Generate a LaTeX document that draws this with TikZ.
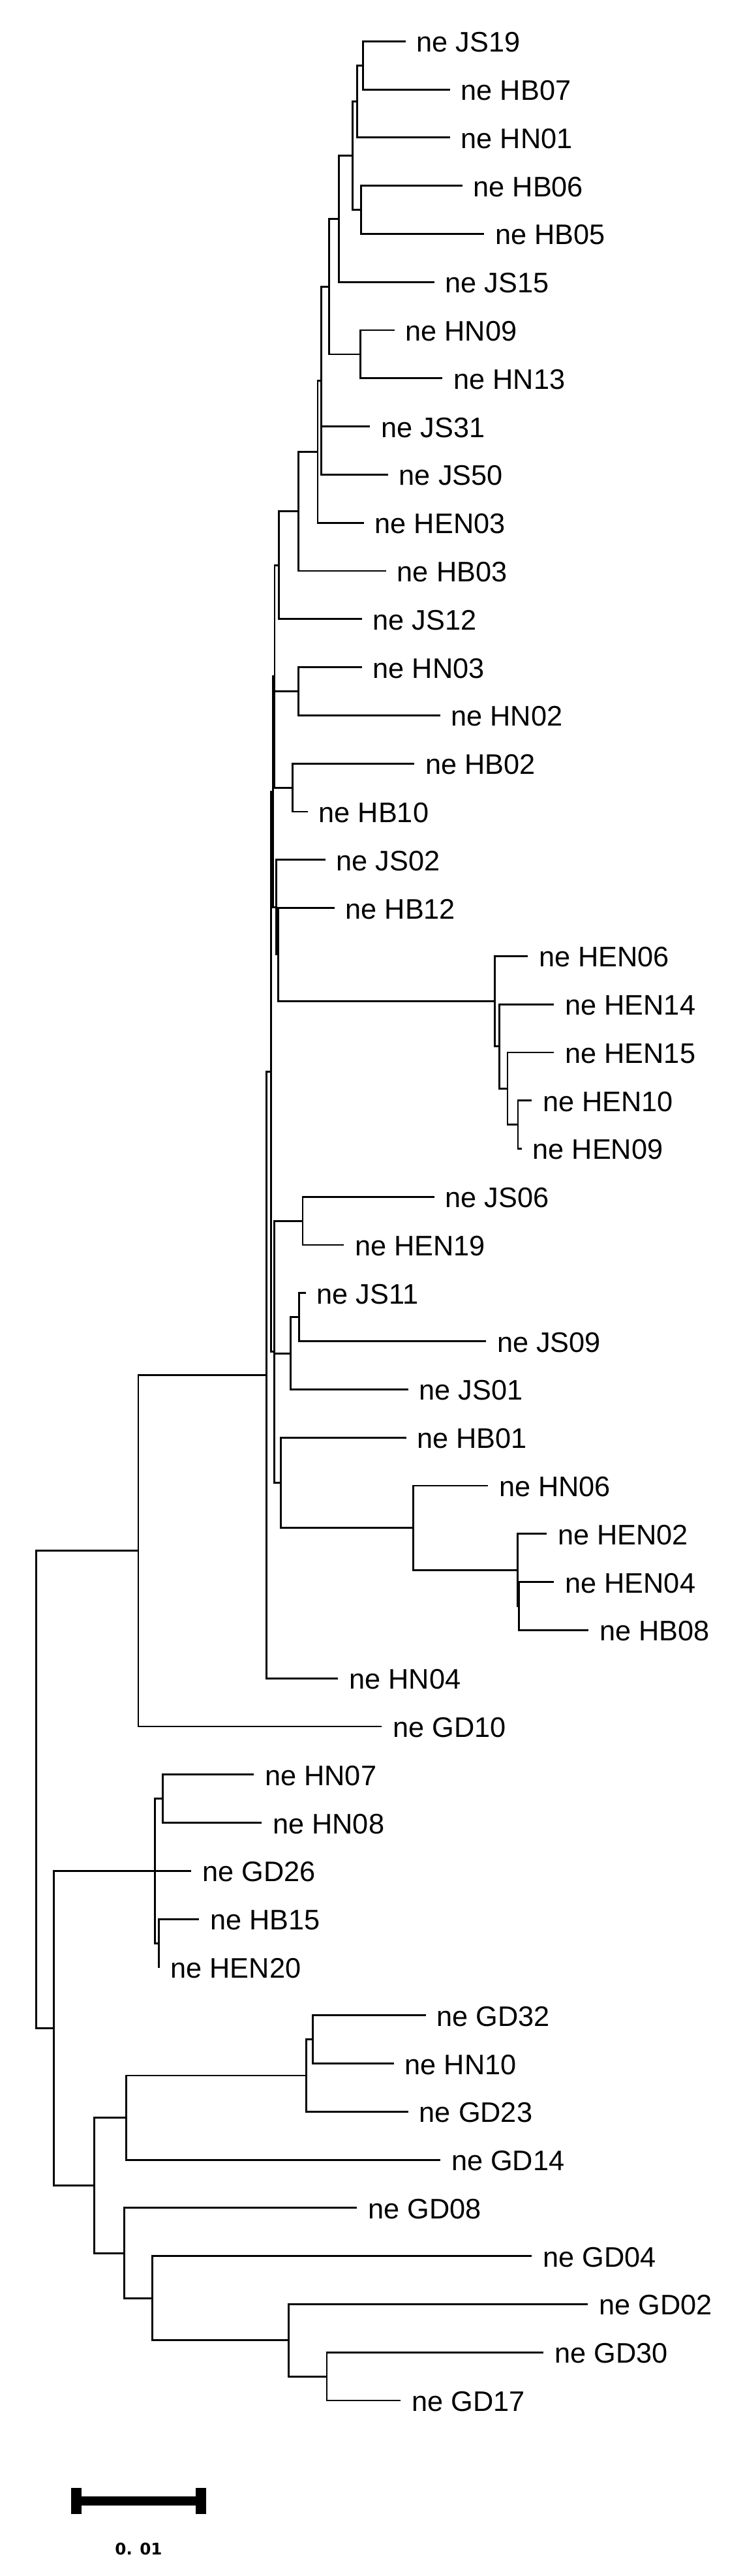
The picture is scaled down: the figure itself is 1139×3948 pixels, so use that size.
\documentclass[tikz,border=0pt]{standalone}
\usepackage{fontspec}
\setmainfont{Liberation Sans}
\newfontfamily\scalebarfont{DejaVu Sans}
\newcommand\leafnode[3]{\coordinate (#1) at (#2,{63.3+#3*73.79}); \node[lab] (L#1) at (#1) {ne #1};}
\newcommand\edgeto[2]{\draw[br] (#1) |- (#2);}
\begin{document}
\begin{tikzpicture}[x=0.5pt,y=-0.5pt,
  br/.style={line width=1.4pt, line join=miter},
  lab/.style={anchor=base west, inner sep=0pt, outer sep=0pt, xshift=8.5pt, yshift=-8.25pt, font=\fontsize{21.65pt}{26pt}\selectfont}]
\useasboundingbox[fill=white] (0,0) rectangle (1139,3948);
% leaves
\leafnode{JS19}{621.7}{0}
\leafnode{HB07}{689.8}{1}
\leafnode{HN01}{689.8}{2}
\leafnode{HB06}{708.6}{3}
\leafnode{HB05}{742.3}{4}
\leafnode{JS15}{665.7}{5}
\leafnode{HN09}{604.5}{6}
\leafnode{HN13}{678.4}{7}
\leafnode{JS31}{567.4}{8}
\leafnode{JS50}{594.9}{9}
\leafnode{HEN03}{557.8}{10}
\leafnode{HB03}{591.9}{11}
\leafnode{JS12}{554.7}{12}
\leafnode{HN03}{554.7}{13}
\leafnode{HN02}{674.5}{14}
\leafnode{HB02}{635.1}{15}
\leafnode{HB10}{471.7}{16}
\leafnode{JS02}{498.5}{17}
\leafnode{HB12}{512.6}{18}
\leafnode{HEN06}{809.2}{19}
\leafnode{HEN14}{849.4}{20}
\leafnode{HEN15}{849.4}{21}
\leafnode{HEN10}{815}{22}
\leafnode{HEN09}{799.7}{23}
\leafnode{JS06}{665.7}{24}
\leafnode{HEN19}{527.2}{25}
\leafnode{JS11}{468.6}{26}
\leafnode{JS09}{745}{27}
\leafnode{JS01}{625.5}{28}
\leafnode{HB01}{622.5}{29}
\leafnode{HN06}{748}{30}
\leafnode{HEN02}{838}{31}
\leafnode{HEN04}{849.4}{32}
\leafnode{HB08}{902.2}{33}
\leafnode{HN04}{518.4}{34}
\leafnode{GD10}{585.4}{35}
\leafnode{HN07}{389.3}{36}
\leafnode{HN08}{401.3}{37}
\leafnode{GD26}{293.3}{38}
\leafnode{HB15}{305.4}{39}
\leafnode{HEN20}{244.5}{40}
\leafnode{GD32}{652.7}{41}
\leafnode{HN10}{603.6}{42}
\leafnode{GD23}{625.9}{43}
\leafnode{GD14}{675}{44}
\leafnode{GD08}{547.4}{45}
\leafnode{GD04}{815.3}{46}
\leafnode{GD02}{901.4}{47}
\leafnode{GD30}{833.2}{48}
\leafnode{GD17}{614.4}{49}
% internal nodes
\coordinate (na) at (556.7,100.2);
\coordinate (nb) at (547.1,155.55);
\coordinate (nc) at (553.6,321.6);
\coordinate (nd) at (540.6,238.6);
\coordinate (ne) at (519.5,335.45);
\coordinate (nn) at (552.8,542.9);
\coordinate (nf) at (504.2,439.2);
\coordinate (ng) at (492.4,583.3);
\coordinate (nh) at (487.0,692.25);
\coordinate (ni) at (457.2,783.6);
\coordinate (nj) at (427.5,866.2);
\coordinate (nN1) at (457.3,1059.5);
\coordinate (nN2) at (448.5,1207.1);
\coordinate (nk) at (421.0,1036.65);
\coordinate (nHENa) at (794,1723.6);
\coordinate (nHENb) at (777.9,1668.25);
\coordinate (nHENc) at (765.2,1603.7);
\coordinate (nHENr) at (758.7,1534.5);
\coordinate (nqq) at (426.7,1463);
\coordinate (nw) at (423.3,1390.35);
\coordinate (ns) at (418.3,1213.5);
\coordinate (nr1) at (464,1871.2);
\coordinate (nr2a) at (458.3,2018.8);
\coordinate (nr2) at (445.7,2074.15);
\coordinate (nEa) at (795.5,2461.5);
\coordinate (nDa) at (793.2,2406.15);
\coordinate (nCa) at (633.2,2341.6);
\coordinate (nBa) at (430.4,2272.4);
\coordinate (nr) at (420.8,2071.8);
\coordinate (nMp) at (415.7,1642.65);
\coordinate (nM) at (408.5,2107.4);
\coordinate (nX) at (212,2376.7);
\coordinate (nHa) at (249.6,2756.7);
\coordinate (nHb) at (243.3,2978.1);
\coordinate (nH) at (237.5,2867.4);
\coordinate (nKa) at (479.5,3125.6);
\coordinate (nK) at (469.6,3180.95);
\coordinate (nL) at (193.8,3245.5);
\coordinate (nSa) at (500.9,3642.2);
\coordinate (nQ) at (442.2,3586.85);
\coordinate (nP) at (233.7,3522.3);
\coordinate (nO) at (190.3,3453.1);
\coordinate (nNn) at (144.4,3349.3);
\coordinate (nG1) at (82.1,3108.35);
\coordinate (nR) at (55.6,2742.5);
% branches
\edgeto{na}{JS19}\edgeto{na}{HB07}
\edgeto{nb}{na}\edgeto{nb}{HN01}
\edgeto{nc}{HB06}\edgeto{nc}{HB05}
\edgeto{nd}{nb}\edgeto{nd}{nc}
\edgeto{ne}{nd}\edgeto{ne}{JS15}
\edgeto{nn}{HN09}\edgeto{nn}{HN13}
\edgeto{nf}{ne}\edgeto{nf}{nn}
\edgeto{ng}{nf}\edgeto{ng}{JS31}\edgeto{ng}{JS50}
\edgeto{nh}{ng}\edgeto{nh}{HEN03}
\edgeto{ni}{nh}\edgeto{ni}{HB03}
\edgeto{nj}{ni}\edgeto{nj}{JS12}
\edgeto{nN1}{HN03}\edgeto{nN1}{HN02}
\edgeto{nN2}{HB02}\edgeto{nN2}{HB10}
\edgeto{nk}{nj}\edgeto{nk}{nN1}\edgeto{nk}{nN2}
\edgeto{nHENa}{HEN10}\edgeto{nHENa}{HEN09}
\edgeto{nHENb}{HEN15}\edgeto{nHENb}{nHENa}
\edgeto{nHENc}{HEN14}\edgeto{nHENc}{nHENb}
\edgeto{nHENr}{HEN06}\edgeto{nHENr}{nHENc}
\edgeto{nqq}{HB12}\edgeto{nqq}{nHENr}
\edgeto{nw}{JS02}\edgeto{nw}{nqq}
\edgeto{ns}{nk}\edgeto{ns}{nw}
\edgeto{nr1}{JS06}\edgeto{nr1}{HEN19}
\edgeto{nr2a}{JS11}\edgeto{nr2a}{JS09}
\edgeto{nr2}{nr2a}\edgeto{nr2}{JS01}
\edgeto{nEa}{HEN04}\edgeto{nEa}{HB08}
\edgeto{nDa}{HEN02}\edgeto{nDa}{nEa}
\edgeto{nCa}{HN06}\edgeto{nCa}{nDa}
\edgeto{nBa}{HB01}\edgeto{nBa}{nCa}
\edgeto{nr}{nr1}\edgeto{nr}{nr2}\edgeto{nr}{nBa}
\edgeto{nMp}{ns}\edgeto{nMp}{nr}
\edgeto{nM}{nMp}\edgeto{nM}{HN04}
\edgeto{nX}{nM}\edgeto{nX}{GD10}
\edgeto{nHa}{HN07}\edgeto{nHa}{HN08}
\edgeto{nHb}{HB15}\edgeto{nHb}{HEN20}
\edgeto{nH}{nHa}\edgeto{nH}{GD26}\edgeto{nH}{nHb}
\edgeto{nKa}{GD32}\edgeto{nKa}{HN10}
\edgeto{nK}{nKa}\edgeto{nK}{GD23}
\edgeto{nL}{nK}\edgeto{nL}{GD14}
\edgeto{nSa}{GD30}\edgeto{nSa}{GD17}
\edgeto{nQ}{GD02}\edgeto{nQ}{nSa}
\edgeto{nP}{GD04}\edgeto{nP}{nQ}
\edgeto{nO}{GD08}\edgeto{nO}{nP}
\edgeto{nNn}{nL}\edgeto{nNn}{nO}
\edgeto{nG1}{nH}\edgeto{nG1}{nNn}
\edgeto{nR}{nX}\edgeto{nR}{nG1}
% scale bar
\fill (109.3,3813.3) rectangle (125,3853.3);
\fill (300,3813.3) rectangle (315.7,3853.3);
\fill (125,3826.3) rectangle (300,3840.3);
\node[anchor=base, inner sep=0pt, font=\scalebarfont\bfseries\fontsize{12.3pt}{14pt}\selectfont] (scalelabel) at (212.5,3915) {0. 01};
\end{tikzpicture}
\end{document}
